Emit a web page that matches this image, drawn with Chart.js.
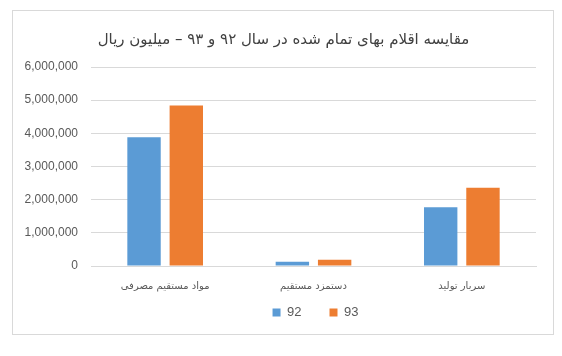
<!DOCTYPE html>
<html><head><meta charset="utf-8">
<script src="https://cdn.jsdelivr.net/npm/chart.js@4/dist/chart.umd.min.js"></script>
<style>
html,body{margin:0;padding:0;background:#fff;}
#box{position:absolute;left:12px;top:10px;width:540px;height:323px;border:1px solid #d9d9d9;}
canvas{display:block;}
</style></head>
<body>
<div id="box"><canvas id="c" width="540" height="323"></canvas></div>
<script>
const categories = ["مواد مستقیم مصرفی", "دستمزد مستقیم", "سربار تولید"];
const series92 = [3880000, 125000, 1770000];
const series93 = [4840000, 190000, 2360000];
const seriesLabels = ["92", "93"];
const yTicks = [0, 1000000, 2000000, 3000000, 4000000, 5000000, 6000000];
const titleText = "مقایسه اقلام بهای تمام شده در سال ۹۲ و ۹۳ – میلیون ریال";

const txt = "#595959";
const fontFam = "'DejaVu Sans', sans-serif";
const latin = "'Liberation Sans', sans-serif";
const LEG_PAD = 28, LEG_TRIM = 20, LEG_SHIFT = 41, TITLE_SHIFT = 9;
const layoutNudge = {
  id: 'layoutNudge',
  afterInit(chart) {
    const lg = chart.legend;
    const f = lg.fit;
    lg.fit = function () { f.call(this); this.height -= LEG_TRIM; };
  },
  afterLayout(chart) {
    const lg = chart.legend;
    lg.top -= LEG_TRIM;
    lg.left += LEG_SHIFT; lg.right += LEG_SHIFT;
    const tb = chart.titleBlock;
    tb.left += TITLE_SHIFT; tb.right += TITLE_SHIFT;
  }
};
new Chart(document.getElementById('c'), {
  type: 'bar',
  data: {
    labels: categories,
    datasets: [
      {label: seriesLabels[0], data: series92, backgroundColor: '#5b9bd5', categoryPercentage: 0.57, barPercentage: 0.79},
      {label: seriesLabels[1], data: series93, backgroundColor: '#ed7d31', categoryPercentage: 0.57, barPercentage: 0.79}
    ]
  },
  plugins: [layoutNudge],
  options: {
    responsive: false,
    animation: false,
    layout: {padding: {left: 0, right: 17, top: 0, bottom: 5}},
    plugins: {
      title: {display: true, text: titleText, color: '#404040', font: {family: fontFam, size: 15, weight: 'normal'}, padding: {top: 20, bottom: 18}},
      legend: {position: 'bottom', labels: {color: txt, font: {family: latin, size: 13}, boxWidth: 8, boxHeight: 8, padding: LEG_PAD}},
      tooltip: {enabled: false}
    },
    scales: {
      x: {
        grid: {display: false},
        border: {color: '#d9d9d9'},
        ticks: {color: txt, font: {family: fontFam, size: 10}, padding: 6}
      },
      y: {
        min: 0, max: 6000000,
        afterFit: (s) => { s.width = 78; },
        afterBuildTicks: (s) => { s.ticks = yTicks.map(v => ({value: v})); },
        grid: {color: '#d9d9d9', drawTicks: false},
        border: {display: false},
        ticks: {color: txt, font: {family: latin, size: 12}, padding: 13,
          callback: (v) => v.toLocaleString('en-US')}
      }
    }
  }
});
</script>
</body></html>
